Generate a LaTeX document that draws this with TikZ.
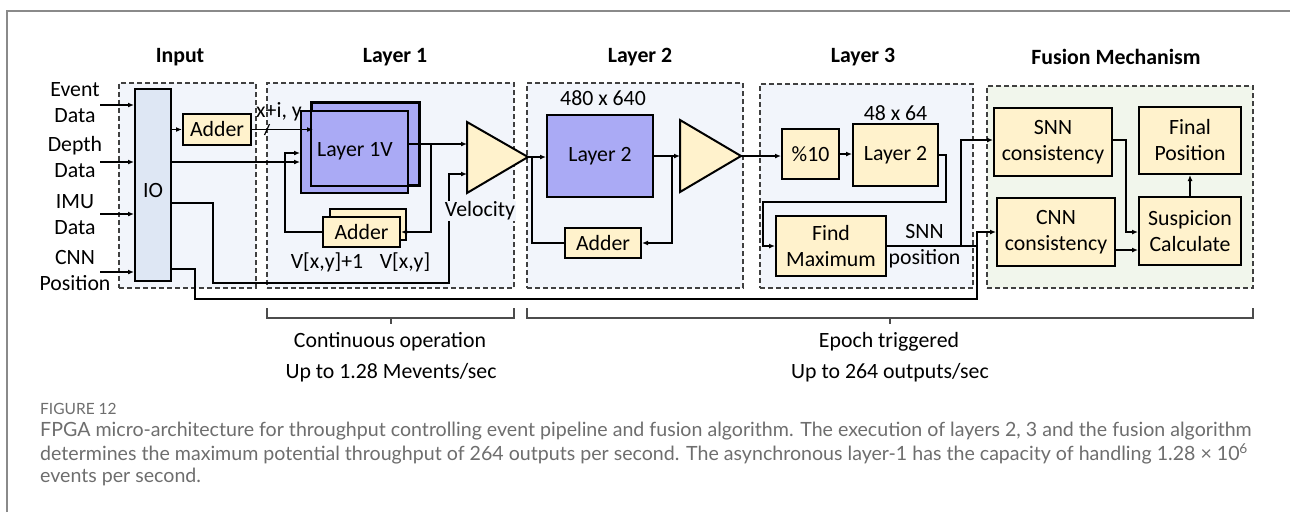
\documentclass[tikz,border=0pt]{standalone}
\usepackage{fontspec}
\setmainfont{Carlito}
\newfontfamily\capfont{Lato}
\usetikzlibrary{arrows.meta}
\definecolor{panelblue}{HTML}{F2F5FB}
\definecolor{panelgreen}{HTML}{F1F6EC}
\definecolor{iofill}{HTML}{DEE7F4}
\definecolor{lav}{HTML}{AAAAF5}
\definecolor{cream}{HTML}{FFF2CC}
\definecolor{capgray}{HTML}{6E6E6E}
\definecolor{framegray}{HTML}{8A8A8A}
\begin{document}
\begin{tikzpicture}[x=1pt,y=-1pt,
  every node/.style={font=\fontsize{21.8}{26}\selectfont, inner sep=0pt},
  panel/.style={draw=black!75, dash pattern=on 5pt off 3pt, line width=1.2pt, fill=panelblue},
  blk/.style={draw=black, line width=2pt, align=center},
  cbox/.style={blk, fill=cream},
  vbox/.style={blk, fill=lav},
  conn/.style={line width=1.8pt},
  arr/.style={conn, -{Latex[length=6pt,width=5pt]}},
  title/.style={font=\fontsize{21.8}{26}\selectfont\bfseries},
  lbl/.style={align=center},
  brace/.style={draw=black!70, line width=1.4pt},
  captxt/.style={font=\capfont\fontsize{19.6}{22}\selectfont, text=capgray, anchor=west}]
\useasboundingbox (0,0) rectangle (1290,512);
\fill[white] (0,0) rectangle (1290,512);
\draw[framegray, line width=1.5pt] (7,512) -- (7,11) -- (1290,11);

% titles
\node[title] (tin) at (180,57) {Input};
\node[title] (tl1) at (395,57) {Layer 1};
\node[title] (tl2) at (640,57) {Layer 2};
\node[title] (tl3) at (863,57) {Layer 3};
\node[title] (tfu) at (1116,57) {Fusion Mechanism};

% panels
\node[panel, minimum width=137pt, minimum height=205pt] (pin) at (187.5,185.5) {};
\node[panel, minimum width=247pt, minimum height=205pt] (pl1) at (390.5,185.5) {};
\node[panel, minimum width=216pt, minimum height=205pt] (pl2) at (635,185.5) {};
\node[panel, minimum width=213pt, minimum height=204pt] (pl3) at (866.5,186) {};
\node[panel, fill=panelgreen, minimum width=266pt, minimum height=202pt] (pfu) at (1120,187) {};

% input labels
\node[lbl] (lev) at (75,103) {Event\\Data};
\node[lbl] (lde) at (75,157) {Depth\\Data};
\node[lbl] (lim) at (75,215) {IMU\\Data};
\node[lbl] (lcn) at (75,270.5) {CNN\\Position};

% input panel blocks
\node[blk, fill=iofill, minimum width=36pt, minimum height=192pt] (io) at (153,185) {};
\node (iot) at (153,190) {IO};
\node[cbox, minimum width=68pt, minimum height=31pt] (add0) at (217,129.5) {Adder};

% layer 1
\node[vbox, minimum width=107pt, minimum height=82pt] (l1b) at (365.5,144) {};
\node[vbox, minimum width=107pt, minimum height=82pt] (l1v) at (354.5,152) {};
\draw[line width=2pt] (l1b.north west) rectangle (l1b.south east);
\node (l1t) at (355,151) {Layer 1V};
\node[cbox, minimum width=76pt, minimum height=31pt] (add1b) at (368,224.5) {};
\node[cbox, minimum width=77pt, minimum height=30pt] (add1f) at (361.5,232) {Adder};
\node (vx1) at (327,262) {V[x,y]+1};
\node (vx0) at (405,262) {V[x,y]};
\coordinate (t1w) at (467,157);
\coordinate (t1a) at (528,157);
\draw[blk, fill=cream, line join=miter] (467,122) -- (t1a) -- (467,193) -- cycle;

% layer 2
\node (dim2) at (603,98) {480 x 640};
\node[vbox, minimum width=106pt, minimum height=82pt] (l2) at (600,156) {Layer 2};
\node[cbox, minimum width=76pt, minimum height=30pt] (add2) at (603,243) {Adder};
\coordinate (t2w) at (680,156);
\coordinate (t2a) at (741,156);
\draw[blk, fill=cream, line join=miter] (680,120) -- (t2a) -- (680,192) -- cycle;

% layer 3
\node[cbox, minimum width=57pt, minimum height=50pt] (mod) at (810.5,154) {\%10};
\node (dim3) at (895.5,113) {48 x 64};
\node[cbox, minimum width=85pt, minimum height=62pt] (l3) at (895.5,155) {Layer 2};
\node[cbox, minimum width=110pt, minimum height=60pt] (fm) at (831,246) {Find\\Maximum};
\node[lbl] (snnp) at (924.5,246) {SNN\\position};

% fusion
\node[cbox, minimum width=118pt, minimum height=68pt] (snnc) at (1053,142) {SNN\\consistency};
\node[cbox, minimum width=118pt, minimum height=68pt] (cnnc) at (1056,232) {CNN\\consistency};
\node[cbox, minimum width=102pt, minimum height=67pt] (fin) at (1190,140.5) {Final\\Position};
\node[cbox, minimum width=102pt, minimum height=68pt] (sus) at (1190,231) {Suspicion\\Calculate};

% input arrows
\coordinate (inE) at (100,105);
\coordinate (inD) at (100,162);
\coordinate (inI) at (100,214);
\coordinate (inC) at (100,272);
\foreach \c in {inE,inD,inI,inC} \draw[arr] (\c) -- (\c -| io.west);

% input -> layer 1
\draw[arr] (io.east |- add0) -- (add0);
\coordinate (xin) at (313,129.5);
\draw[arr] (add0) -- (xin);
\draw[line width=1.2pt] (264.5,135) -- (269.5,124);
\node (xiy) at (279,112) {x+i, y};
\draw[arr] (io.east |- inD) -- (inD -| l1v.west);
\draw[arr] (add1f.west) -- (285,232) -- (285,153) -- (l1v.west |- 0,153);
\draw[arr] (l1v.east |- 0,144) -- (t1w |- 0,144);
\draw[arr] (431,144) -- (431,232) -- (add1f.east);
\draw[arr] (io.east |- 0,203) -- (213,203) -- (213,283) -- (449,283) -- (449,174) -- (t1w |- 0,174);
\node[fill=panelblue, inner sep=1pt] (vel) at (480,211) {Velocity};

% layer 2
\draw[arr] (t1a) -- (t1a -| l2.west);
\draw[conn] (532,157) -- (532,243) -- (add2);
\draw[arr] (l2.east) -- (t2w |- l2.east);
\draw[arr] (672,156) -- (672,243) -- (add2);

% layer 3
\draw[arr] (t2a) -- (t2a -| mod.west);
\draw[arr] (mod.east) -- (mod.east -| l3.west);
\draw[arr] (l3.east) -- (946,155) -- (946,202) -- (763,202) -- (763,246) -- (fm.west);
\draw[conn] (fm.east) -- (977,246);
\draw[arr] (961,246) -- (961,140) -- (snnc.west |- 0,140);
\draw[arr] (io.east |- 0,269) -- (195,269) -- (195,299) -- (977,299) -- (977,232) -- (cnnc.west);

% fusion
\draw[arr] (snnc.east |- 0,140) -- (1126,140) -- (1126,232) -- (sus.west |- 0,232);
\draw[arr] (cnnc.east |- 0,250) -- (sus.west |- 0,250);
\draw[arr] (sus) -- (fin);

% braces
\draw[brace] (267,308) -- (267,318) -- (514,318) -- (514,308);
\draw[brace] (391,318) -- (391,324);
\draw[brace] (527,308) -- (527,318) -- (1253,318) -- (1253,308);
\draw[brace] (890,318) -- (890,324);
\node (co) at (390,342) {Continuous operation};
\node (cr) at (391,373) {Up to 1.28 Mevents/sec};
\node (et) at (889,342) {Epoch triggered};
\node (er) at (890,373) {Up to 264 outputs/sec};

% caption
\node[captxt, font=\capfont\fontsize{15.5}{18}\selectfont] (fig) at (40,409) {FIGURE 12};
\node[captxt] (c1) at (40,431) {FPGA micro-architecture for throughput controlling event pipeline and fusion algorithm. The execution of layers 2, 3 and the fusion algorithm};
\node[captxt] (c2) at (40,454) {determines the maximum potential throughput of 264 outputs per second. The asynchronous layer-1 has the capacity of handling 1.28 × 10\textsuperscript{6}};
\node[captxt] (c3) at (40,477) {events per second.};
\end{tikzpicture}
\end{document}
